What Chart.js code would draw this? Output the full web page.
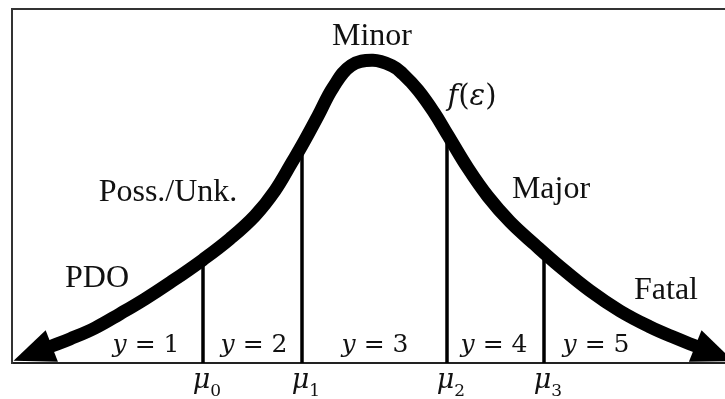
<!DOCTYPE html>
<html>
<head>
<meta charset="utf-8">
<script src="https://cdn.jsdelivr.net/npm/chart.js@4.4.1/dist/chart.umd.min.js"></script>
<style>
  html, body { margin: 0; padding: 0; background: #fff; }
  #wrap { width: 725px; height: 399px; }
</style>
</head>
<body>
<div id="wrap"><canvas id="chart"></canvas></div>
<script>
/* Density curve f(eps) (eps units, height in % of frame) */
const curveEps = [-3.24, -3.03, -2.78, -2.53, -2.28, -2.03, -1.70, -1.43, -1.18, -0.98,
                  -0.81, -0.71, -0.55, -0.40, -0.22, 0.00, 0.20, 0.30, 0.45, 0.61,
                  0.75, 0.95, 1.15, 1.37, 1.62, 1.87, 2.17, 2.47, 2.77, 3.02, 3.25];
const curveDensity = [4.5, 6.8, 9.9, 13.9, 18.1, 22.7, 29.2, 35.1, 41.6, 48.7,
                      56.7, 61.5, 69.8, 77.8, 84.0, 85.5, 83.8, 81.6, 77.1, 70.8,
                      64.3, 55.0, 47.0, 39.9, 33.4, 27.2, 20.4, 14.7, 10.2, 7.1, 4.5];

/* Thresholds mu0..mu3 and the curve height where each line stops */
const thresholds = [-1.70, -0.71, 0.74, 1.71];
const thresholdTops = [29.2, 61.5, 64.0, 31.2];
const thresholdNames = ['0', '1', '2', '3'];

/* Outcome categories and the y = k regions */
const categories = ['PDO', 'Poss./Unk.', 'Minor', 'Major', 'Fatal'];
const regionValues = ['1', '2', '3', '4', '5'];

/* Axis range */
const X_MIN = -3.61, X_MAX = 3.52;
const Y_MIN = 0, Y_MAX = 100;

/* Where the annotation texts sit (data coordinates) */
const categoryPos = [[-2.76, 23.8], [-2.05, 48.0], [-0.01, 92.3], [1.78, 49.0], [2.93, 20.4]];
const regionPosX = [-2.27, -1.19, 0.02, 1.21, 2.23];
const fLabelPos = [0.99, 75.6];

const SERIF = '"Liberation Serif", "Times New Roman", serif';
const MATH = '"DejaVu Serif", serif';
const ARROW_LEN = 38, ARROW_HALF = 17;

/* Draw a row of text pieces centered on cx, sharing a baseline */
function drawRuns(ctx, runs, cx, baseline) {
    let total = 0;
    runs.forEach(r => { ctx.font = r.font; r.w = ctx.measureText(r.t).width; total += r.w; });
    let x = cx - total / 2;
    ctx.textAlign = 'left';
    ctx.textBaseline = 'alphabetic';
    runs.forEach(r => {
        ctx.font = r.font;
        ctx.fillText(r.t, x, baseline + (r.dy || 0));
        x += r.w;
    });
}

const arrowHeads = {
    id: 'arrowHeads',
    afterDatasetsDraw(chart) {
        const pts = chart.getDatasetMeta(0).data;
        const ctx = chart.ctx;
        const ends = [[pts[1], pts[0]], [pts[pts.length - 2], pts[pts.length - 1]]];
        ctx.save();
        ctx.fillStyle = '#000';
        ends.forEach(([a, b]) => {
            const dx = b.x - a.x, dy = b.y - a.y, len = Math.hypot(dx, dy);
            const ux = dx / len, uy = dy / len;
            const bx = b.x - ux * 3, by = b.y - uy * 3;
            ctx.beginPath();
            ctx.moveTo(b.x + ux * ARROW_LEN, b.y + uy * ARROW_LEN);
            ctx.lineTo(bx - uy * ARROW_HALF, by + ux * ARROW_HALF);
            ctx.lineTo(bx + uy * ARROW_HALF, by - ux * ARROW_HALF);
            ctx.closePath();
            ctx.fill();
        });
        ctx.restore();
    }
};

const labels = {
    id: 'labels',
    afterDraw(chart) {
        const ctx = chart.ctx;
        const xs = chart.scales.x, ys = chart.scales.y;
        const axisY = ys.getPixelForValue(0);
        ctx.save();
        ctx.fillStyle = '#111';

        // category names
        ctx.font = '32px ' + SERIF;
        ctx.textAlign = 'center';
        ctx.textBaseline = 'middle';
        categories.forEach((c, i) => {
            ctx.fillText(c, xs.getPixelForValue(categoryPos[i][0]), ys.getPixelForValue(categoryPos[i][1]));
        });

        // f(eps)
        drawRuns(ctx, [
            { t: 'f', font: 'italic 29px ' + MATH },
            { t: '(', font: '29px ' + MATH },
            { t: 'ε', font: 'italic 29px ' + MATH },
            { t: ')', font: '29px ' + MATH }
        ], xs.getPixelForValue(fLabelPos[0]), ys.getPixelForValue(fLabelPos[1]) + 10);

        // y = k
        regionValues.forEach((v, i) => {
            drawRuns(ctx, [
                { t: 'y', font: 'italic 25px ' + MATH },
                { t: ' = ' + v, font: '25px ' + MATH }
            ], xs.getPixelForValue(regionPosX[i]), axisY - 11);
        });

        // mu_k under the axis
        thresholds.forEach((t, i) => {
            drawRuns(ctx, [
                { t: 'μ', font: 'italic 27px ' + MATH },
                { t: thresholdNames[i], font: '17px ' + MATH, dy: 8 }
            ], xs.getPixelForValue(t) + 4, axisY + 25);
        });
        ctx.restore();
    }
};

const datasets = [{
    data: curveEps.map((e, i) => ({ x: e, y: curveDensity[i] })),
    showLine: true,
    borderColor: '#000',
    borderWidth: 13,
    pointRadius: 0,
    tension: 0.4,
    clip: false
}];
thresholds.forEach((t, i) => {
    datasets.push({
        data: [{ x: t, y: Y_MIN }, { x: t, y: thresholdTops[i] }],
        showLine: true,
        borderColor: '#000',
        borderWidth: 3.5,
        pointRadius: 0,
        clip: false
    });
});

const hiddenAxis = {
    ticks: { display: false },
    grid: { display: false, drawTicks: false },
    border: { display: true, color: '#222', width: 2 }
};

new Chart(document.getElementById('chart').getContext('2d'), {
    type: 'scatter',
    data: { datasets: datasets },
    options: {
        animation: false,
        responsive: true,
        maintainAspectRatio: false,
        layout: { padding: { left: 12, top: 9, right: 0, bottom: 36 } },
        plugins: { legend: { display: false }, tooltip: { enabled: false } },
        scales: {
            x: Object.assign({ type: 'linear', position: 'bottom', min: X_MIN, max: X_MAX }, hiddenAxis),
            xTop: Object.assign({ type: 'linear', position: 'top', min: X_MIN, max: X_MAX }, hiddenAxis,
                { border: { display: true, color: '#333', width: 2 } }),
            y: Object.assign({ min: Y_MIN, max: Y_MAX }, hiddenAxis,
                { border: { display: true, color: '#333', width: 2 } })
        }
    },
    plugins: [arrowHeads, labels]
});
</script>
</body>
</html>
